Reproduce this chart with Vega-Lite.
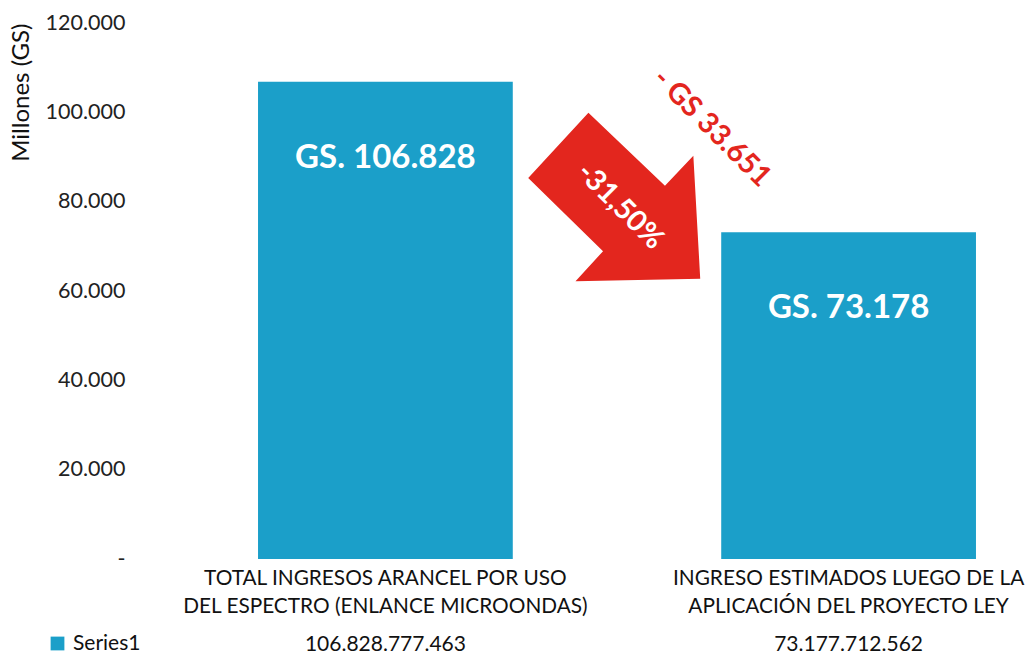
{
  "$schema": "https://vega.github.io/schema/vega-lite/v6.json",
  "autosize": "none",
  "width": 818,
  "height": 536,
  "padding": {"left": 208, "top": 23, "right": 0, "bottom": 96},
  "background": "white",
  "config": {
    "font": "Lato",
    "view": {"stroke": null}
  },
  "datasets": {
    "main": [
      {"cat": "TOTAL INGRESOS ARANCEL POR USO|DEL ESPECTRO (ENLANCE MICROONDAS)", "value": 106828, "label": "GS. 106.828", "full": "106.828.777.463", "series": "Series1"},
      {"cat": "INGRESO ESTIMADOS LUEGO DE LA|APLICACIÓN DEL PROYECTO LEY", "value": 73178, "label": "GS. 73.178", "full": "73.177.712.562", "series": "Series1"}
    ],
    "notes": [
      {"kind": "arrow", "pos": 0.495, "val": 81045, "text": ""},
      {"kind": "pct", "pos": 0.508, "val": 79030, "text": "-31,50%"},
      {"kind": "diff", "pos": 0.706, "val": 96493, "text": "- GS 33.651"}
    ]
  },
  "layer": [
    {
      "data": {"name": "main"},
      "layer": [
        {
          "mark": {"type": "bar"},
          "encoding": {
            "x": {
              "field": "cat", "type": "nominal", "sort": null,
              "scale": {"paddingInner": 0.45, "paddingOuter": 0.108},
              "axis": {
                "title": null, "domain": false, "ticks": false, "labelAngle": 0,
                "labelExpr": "split(datum.label, '|')",
                "labelFontSize": 20.8, "labelColor": "#111", "labelPadding": 9,
                "labelLineHeight": 28, "labelBaseline": "top", "labelLimit": 600
              }
            },
            "y": {
              "field": "value", "type": "quantitative",
              "scale": {"domain": [0, 120000], "nice": false},
              "axis": {
                "title": "Millones (GS)", "titleFontSize": 24, "titleFontWeight": "normal",
                "titleColor": "#111", "titleAnchor": "end", "titlePadding": 12,
                "values": [0, 20000, 40000, 60000, 80000, 100000, 120000],
                "labelExpr": "datum.value == 0 ? '-' : format(datum.value/1000, 'd') + '.000'",
                "labelFontSize": 21.5, "labelColor": "#222", "labelPadding": 83,
                "domain": false, "ticks": false, "grid": false
              }
            },
            "color": {
              "field": "series", "type": "nominal",
              "scale": {"range": ["#1b9fc9"]},
              "legend": {
                "title": null, "orient": "none", "legendX": -161, "legendY": 610, "padding": 0,
                "symbolType": "square", "symbolSize": 190, "labelFontSize": 21,
                "labelColor": "#111", "symbolStrokeWidth": 0, "labelOffset": 5
              }
            }
          }
        },
        {
          "mark": {"type": "text", "color": "white", "fontSize": 33, "fontWeight": "bold", "dy": 76, "baseline": "middle"},
          "encoding": {
            "x": {"field": "cat", "type": "nominal", "sort": null},
            "y": {"field": "value", "type": "quantitative"},
            "text": {"field": "label"}
          }
        },
        {
          "mark": {"type": "text", "color": "#111", "fontSize": 21, "dy": 86, "baseline": "middle"},
          "encoding": {
            "x": {"field": "cat", "type": "nominal", "sort": null},
            "y": {"datum": 0, "type": "quantitative"},
            "text": {"field": "full"}
          }
        }
      ]
    },
    {
      "data": {"name": "notes"},
      "encoding": {
        "x": {"field": "pos", "type": "quantitative", "scale": {"domain": [-0.382, 1.384], "nice": false, "zero": false}, "axis": null},
        "y": {"field": "val", "type": "quantitative"}
      },
      "layer": [
        {
          "transform": [{"filter": "datum.kind == 'arrow'"}],
          "mark": {
            "type": "point", "filled": true, "color": "#e3261e", "opacity": 1, "size": 29584,
            "shape": "M-1,-0.22 L-0.3,-0.98 L0.59,-0.13 L0.92,-0.48 L1,0.95 L-0.45,0.98 L-0.13,0.63 Z"
          }
        },
        {
          "transform": [{"filter": "datum.kind == 'pct'"}],
          "mark": {"type": "text", "color": "white", "fontSize": 29, "fontWeight": "bold", "angle": 45, "baseline": "middle"},
          "encoding": {"text": {"field": "text"}}
        },
        {
          "transform": [{"filter": "datum.kind == 'diff'"}],
          "mark": {"type": "text", "color": "#e3261e", "fontSize": 29, "fontWeight": "bold", "angle": 45, "baseline": "middle"},
          "encoding": {"text": {"field": "text"}}
        }
      ]
    }
  ],
  "resolve": {"scale": {"x": "independent"}}
}
